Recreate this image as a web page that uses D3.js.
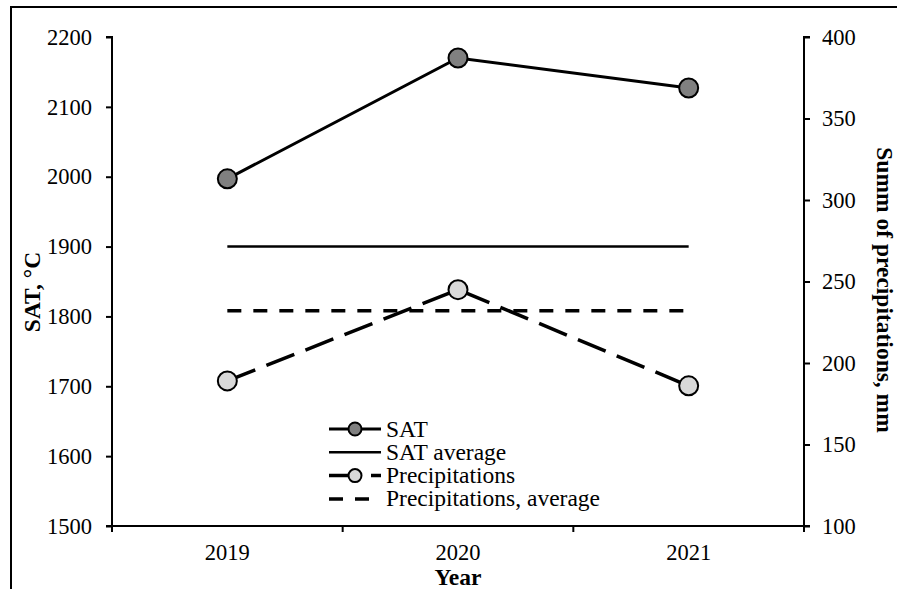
<!DOCTYPE html>
<html>
<head>
<meta charset="utf-8">
<script src="https://cdn.jsdelivr.net/npm/d3@7"></script>
<style>
    body { margin: 0; background: #fff; }
    svg { display: block; }
    text { font-family: "Liberation Serif", "Times New Roman", serif; fill: #000; }
</style>
</head>
<body>
<svg id="chart" width="897" height="589"></svg>
<script>
// data
var years = ["2019", "2020", "2021"]
var satValues = [1997, 2170, 2127]
var satAverage = 1900
var precipValues = [189, 245, 186]
var precipAverage = 232
var satTicks = [1500, 1600, 1700, 1800, 1900, 2000, 2100, 2200]
var precipTicks = [100, 150, 200, 250, 300, 350, 400]
var legendLabels = ["SAT", "SAT average", "Precipitations", "Precipitations, average"]

var width = 897,
    height = 589,
    pLeft = 112, pRight = 804, pTop = 37, pBottom = 526

var svg = d3.select("#chart")

// outer frame (only top and left edges show in the picture)
svg.append("path")
    .attr("d", "M11,589 L11,7 L897,7")
    .attr("fill", "none")
    .attr("stroke", "#000")
    .attr("stroke-width", 2)

var x = d3.scaleBand().domain(years).range([pLeft, pRight]).padding(0)
var ySat = d3.scaleLinear().domain([1500, 2200]).range([pBottom, pTop])
var yPrec = d3.scaleLinear().domain([100, 400]).range([pBottom, pTop])

// left axis
var gl = svg.append("g")
    .attr("transform", "translate(" + pLeft + ",0)")
    .call(d3.axisLeft(ySat).tickValues(satTicks).tickSize(6).tickPadding(14).tickFormat(d3.format("d")))
// right axis
var gr = svg.append("g")
    .attr("transform", "translate(" + pRight + ",0)")
    .call(d3.axisRight(yPrec).tickValues(precipTicks).tickSize(6).tickPadding(12).tickFormat(d3.format("d")))
// bottom axis, labels at centers, ticks at category boundaries
var gb = svg.append("g")
    .attr("transform", "translate(0," + pBottom + ")")
    .call(d3.axisBottom(x).tickSize(0).tickPadding(18))

gb.selectAll(".bound")
    .data(d3.range(years.length + 1))
    .enter().append("line")
    .attr("class", "bound")
    .attr("x1", function (i) { return pLeft + i * x.step() })
    .attr("x2", function (i) { return pLeft + i * x.step() })
    .attr("y1", 0).attr("y2", 6)
    .attr("stroke", "#000").attr("stroke-width", 2)

;[gl, gr, gb].forEach(function (g) {
    g.attr("font-size", null).attr("font-family", null)
    g.selectAll(".domain").attr("stroke", "#000").attr("stroke-width", 2)
    g.selectAll(".tick line").attr("stroke", "#000").attr("stroke-width", 2)
    g.selectAll(".tick text")
        .style("font-family", "'Liberation Serif', 'Times New Roman', serif")
        .style("font-size", "22.5px")
        .attr("fill", "#000")
})
gb.select(".domain").attr("d", "M" + pLeft + ",0H" + pRight)
gl.select(".domain").attr("d", "M-6," + pTop + "H0V" + pBottom + "H-6")
gr.select(".domain").attr("d", "M6," + pTop + "H0V" + pBottom + "H6")

// axis titles
svg.append("text")
    .attr("transform", "translate(40," + 292 + ") rotate(-90)")
    .attr("text-anchor", "middle")
    .style("font-size", "23.5px").style("font-weight", "bold")
    .text("SAT, °C")

svg.append("text")
    .attr("transform", "translate(877," + 290 + ") rotate(90)")
    .attr("text-anchor", "middle")
    .style("font-size", "23.5px").style("font-weight", "bold")
    .text("Summ of precipitations, mm")

svg.append("text")
    .attr("x", (pLeft + pRight) / 2)
    .attr("y", 585)
    .attr("text-anchor", "middle")
    .style("font-size", "23.5px").style("font-weight", "bold")
    .text("Year")

var cx = function (d, i) { return x(years[i]) + x.bandwidth() / 2 }

// average lines
var first = x(years[0]) + x.bandwidth() / 2
var last = x(years[years.length - 1]) + x.bandwidth() / 2

svg.append("line")
    .attr("x1", first).attr("x2", last)
    .attr("y1", ySat(satAverage)).attr("y2", ySat(satAverage))
    .attr("stroke", "#000").attr("stroke-width", 2.5)

svg.append("line")
    .attr("x1", first).attr("x2", last)
    .attr("y1", yPrec(precipAverage)).attr("y2", yPrec(precipAverage))
    .attr("stroke", "#000").attr("stroke-width", 3.5)
    .attr("stroke-dasharray", "14,12")

// series lines
var satLine = d3.line().x(cx).y(function (d) { return ySat(d) })
var precLine = d3.line().x(cx).y(function (d) { return yPrec(d) })

svg.append("path")
    .datum(satValues)
    .attr("d", satLine)
    .attr("fill", "none")
    .attr("stroke", "#000").attr("stroke-width", 3)

svg.append("path")
    .datum(precipValues)
    .attr("d", precLine)
    .attr("fill", "none")
    .attr("stroke", "#000").attr("stroke-width", 3.5)
    .attr("stroke-dasharray", "30,12")

svg.selectAll(".satDot")
    .data(satValues)
    .enter().append("circle")
    .attr("class", "satDot")
    .attr("cx", cx)
    .attr("cy", function (d) { return ySat(d) })
    .attr("r", 9.5)
    .attr("fill", "#808080")
    .attr("stroke", "#000").attr("stroke-width", 2)

svg.selectAll(".precDot")
    .data(precipValues)
    .enter().append("circle")
    .attr("class", "precDot")
    .attr("cx", cx)
    .attr("cy", function (d) { return yPrec(d) })
    .attr("r", 9.5)
    .attr("fill", "#d9d9d9")
    .attr("stroke", "#000").attr("stroke-width", 2)

// legend
var lx = 329, lw = 52, ly = 429, lh = 23.3
var styles = [
    { dash: null, w: 3, fill: "#808080" },
    { dash: null, w: 2.5, fill: null },
    { dash: "30,12", w: 3.5, fill: "#d9d9d9" },
    { dash: "14,12", w: 3.5, fill: null }
]

var leg = svg.selectAll(".leg")
    .data(legendLabels)
    .enter().append("g")
    .attr("class", "leg")
    .attr("transform", function (d, i) { return "translate(0," + (ly + i * lh) + ")" })

leg.append("line")
    .attr("x1", lx).attr("x2", lx + lw)
    .attr("y1", 0).attr("y2", 0)
    .attr("stroke", "#000")
    .attr("stroke-width", function (d, i) { return styles[i].w })
    .attr("stroke-dasharray", function (d, i) { return styles[i].dash })

leg.filter(function (d, i) { return styles[i].fill })
    .append("circle")
    .attr("cx", lx + lw / 2)
    .attr("cy", 0)
    .attr("r", 6.5)
    .attr("fill", function (d) { return styles[legendLabels.indexOf(d)].fill })
    .attr("stroke", "#000").attr("stroke-width", 2)

leg.append("text")
    .attr("x", lx + lw + 5)
    .attr("y", 7.5)
    .style("font-size", "23.5px")
    .text(function (d) { return d })
</script>
</body>
</html>
